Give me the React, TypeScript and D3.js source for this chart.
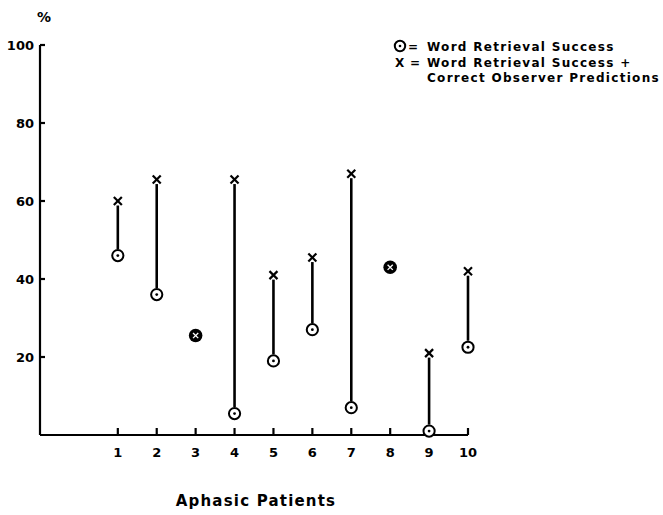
import * as d3 from "d3";

const patients = [1, 2, 3, 4, 5, 6, 7, 8, 9, 10];
const retrieval = [46, 36, 25.5, 5.5, 19, 27, 7, 43, 1, 22.5];
const withPredictions = [60, 65.5, 25.5, 65.5, 41, 45.5, 67, 43, 21, 42];
const yTicks = [20, 40, 60, 80, 100];

const W = 663;
const H = 515;
const FONT = "'DejaVu Sans', Arial, sans-serif";

export default function App() {
  const x = d3.scaleLinear().domain([-1, 10]).range([40, 468]);
  const y = d3.scaleLinear().domain([0, 100]).range([435, 45]);

  const cross = (px: number, py: number, r: number) => (
    <g>
      <line x1={px - r} x2={px + r} y1={py - r} y2={py + r} />
      <line x1={px - r} x2={px + r} y1={py + r} y2={py - r} />
    </g>
  );

  return (
    <svg
      width={W}
      height={H}
      style={{ position: "absolute", left: 0, top: 0, background: "#fff" }}
      fontFamily={FONT}
      fontWeight="bold"
    >
      {/* axes */}
      <g stroke="#000" strokeWidth={2.2} fill="none">
        <line x1={x(-1)} x2={x(-1)} y1={y(100)} y2={y(0)} />
        <line x1={x(-1)} x2={x(10)} y1={y(0)} y2={y(0)} />
        {yTicks.map((t) => (
          <line key={t} x1={x(-1)} x2={x(-1) + 5} y1={y(t)} y2={y(t)} />
        ))}
        {patients.map((p) => (
          <line key={p} x1={x(p)} x2={x(p)} y1={y(0)} y2={y(0) - 7} />
        ))}
      </g>
      <g fontSize={13} textAnchor="end">
        {yTicks.map((t) => (
          <text key={t} x={x(-1) - 6} y={y(t)} dy="0.35em">
            {t}
          </text>
        ))}
      </g>
      <text x={37} y={22} fontSize={14}>
        %
      </text>
      <g fontSize={13} textAnchor="middle">
        {patients.map((p) => (
          <text key={p} x={x(p)} y={457}>
            {p}
          </text>
        ))}
      </g>
      <text x={256} y={506} fontSize={15} textAnchor="middle" letterSpacing={1.2}>
        Aphasic Patients
      </text>

      {/* data */}
      {patients.map((p, i) => {
        const px = x(p);
        const cy = y(retrieval[i]);
        const xy = y(withPredictions[i]);
        if (retrieval[i] === withPredictions[i]) {
          return (
            <g key={p}>
              <circle cx={px} cy={cy} r={6.8} fill="#000" />
              <g stroke="#fff" strokeWidth={1.3}>{cross(px, cy, 2.6)}</g>
            </g>
          );
        }
        return (
          <g key={p}>
            <line x1={px} x2={px} y1={cy - 6.5} y2={xy + 4.5} stroke="#000" strokeWidth={2.6} />
            <circle cx={px} cy={cy} r={5.6} fill="#fff" stroke="#000" strokeWidth={2} />
            <circle cx={px} cy={cy} r={1.4} fill="#000" />
            <g stroke="#000" strokeWidth={2.2}>{cross(px, xy, 4)}</g>
          </g>
        );
      })}

      {/* legend */}
      <g fontSize={12} letterSpacing={1.3}>
        <circle cx={400} cy={46} r={5.2} fill="#fff" stroke="#000" strokeWidth={2} />
        <circle cx={400} cy={46} r={1.3} fill="#000" />
        <text x={408} y={51}>=</text>
        <text x={427} y={51}>Word Retrieval Success</text>
        <text x={395} y={67}>X</text>
        <text x={410} y={67}>=</text>
        <text x={427} y={67}>Word Retrieval Success +</text>
        <text x={427} y={82}>Correct Observer Predictions</text>
      </g>
    </svg>
  );
}
